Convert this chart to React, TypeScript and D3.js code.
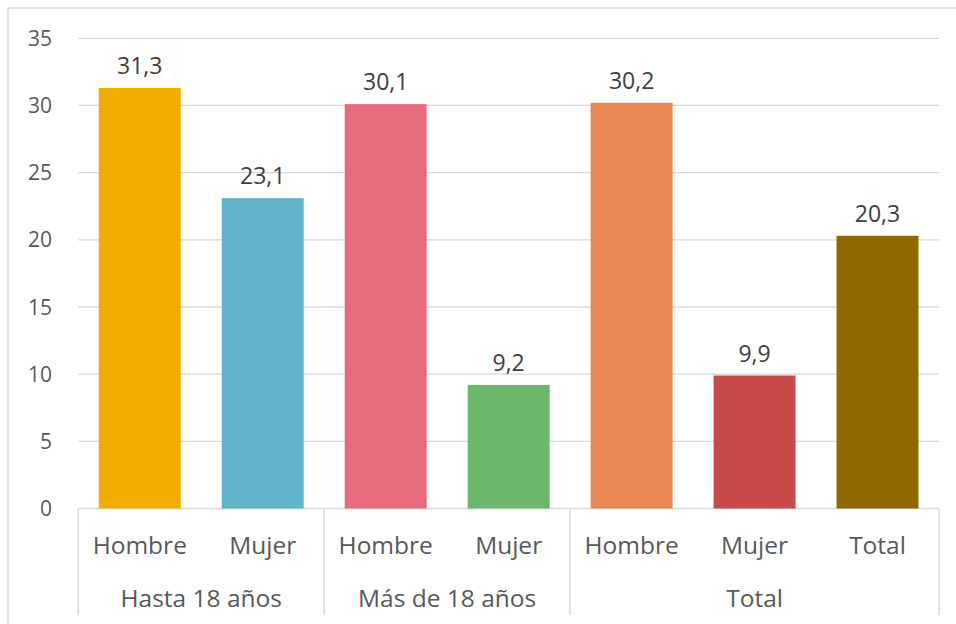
import React from "react";
import * as d3 from "d3";

const categories = ["Hombre", "Mujer", "Hombre", "Mujer", "Hombre", "Mujer", "Total"];
const groups = ["Hasta 18 años", "Más de 18 años", "Total"];
const groupSizes = [2, 2, 3];
const values = [31.3, 23.1, 30.1, 9.2, 30.2, 9.9, 20.3];
const valueLabels = ["31,3", "23,1", "30,1", "9,2", "30,2", "9,9", "20,3"];
const colors = ["#F0AD00", "#61B3CB", "#E76A7D", "#6BB76C", "#E88753", "#C74A49", "#8F6800"];
const yTicks = [0, 5, 10, 15, 20, 25, 30, 35];

const W = 956;
const H = 624;
const left = 78.3;
const right = 939;
const top = 38.3;
const bottom = 508.5;
const FONT = "'Open Sans', 'Noto Sans', sans-serif";

export default function App() {
  const idx = categories.map((_, i) => i);
  const x = d3
    .scaleBand<number>()
    .domain(idx)
    .range([left, right])
    .paddingInner(1 / 3)
    .paddingOuter(1 / 6);
  const step = x.step();
  const y = d3.scaleLinear().domain([0, 35]).range([bottom, top]);

  let acc = 0;
  const groupBounds = groupSizes.map((n) => {
    const s = acc;
    acc += n;
    return [s, acc];
  });
  const slotX = (i: number) => left + i * step;

  return (
    <div style={{ width: W, height: H }}>
      <style>{`body{margin:0}`}</style>
      <svg width={W} height={H} style={{ display: "block" }} fontFamily={FONT}>
        <rect x={0} y={0} width={W} height={H} fill="#ffffff" />
        {/* outer border */}
        <line x1={8} y1={8} x2={W} y2={8} stroke="#d9d9d9" strokeWidth={1.5} />
        <line x1={8} y1={8} x2={8} y2={H} stroke="#d9d9d9" strokeWidth={1.5} />

        {/* gridlines */}
        {yTicks.map((t) => (
          <line key={"g" + t} x1={left} x2={right} y1={y(t)} y2={y(t)} stroke="#d9d9d9" strokeWidth={1.3} />
        ))}

        {/* y labels */}
        {yTicks.map((t) => (
          <text
            key={"yl" + t}
            x={52}
            y={y(t) + 2}
            textAnchor="end"
            dominantBaseline="middle"
            fontSize={21}
            fill="#595959"
          >
            {t}
          </text>
        ))}

        {/* bars */}
        {values.map((v, i) => (
          <rect key={"b" + i} x={x(i)} y={y(v)} width={x.bandwidth()} height={y(0) - y(v)} fill={colors[i]} />
        ))}

        {/* data labels */}
        {values.map((v, i) => (
          <text
            key={"dl" + i}
            x={(x(i) as number) + x.bandwidth() / 2}
            y={y(v) - 14}
            textAnchor="middle"
            fontSize={23}
            fill="#404040"
          >
            {valueLabels[i]}
          </text>
        ))}

        {/* category axis separators */}
        {[0, ...groupBounds.map((g) => g[1])].map((b, i) => (
          <line key={"sep" + i} x1={slotX(b)} x2={slotX(b)} y1={bottom} y2={615} stroke="#d9d9d9" strokeWidth={1.5} />
        ))}

        {/* category labels */}
        {categories.map((c, i) => (
          <text
            key={"c" + i}
            x={(x(i) as number) + x.bandwidth() / 2}
            y={554}
            textAnchor="middle"
            fontSize={24.5}
            fill="#595959"
          >
            {c}
          </text>
        ))}

        {/* group labels */}
        {groups.map((g, i) => (
          <text
            key={"gr" + i}
            x={(slotX(groupBounds[i][0]) + slotX(groupBounds[i][1])) / 2}
            y={607}
            textAnchor="middle"
            fontSize={24.5}
            fill="#595959"
          >
            {g}
          </text>
        ))}
      </svg>
    </div>
  );
}
